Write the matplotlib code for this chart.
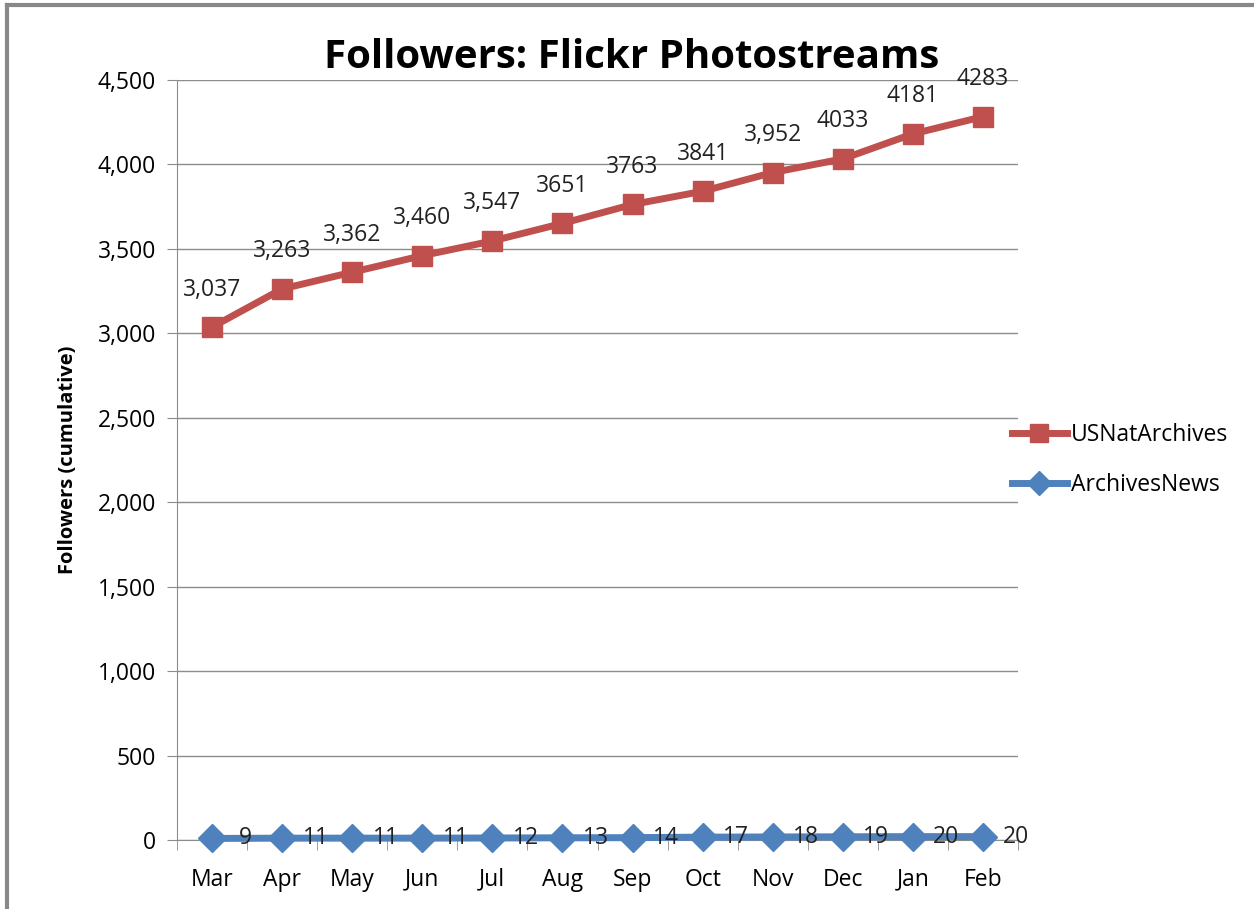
import numpy as np
import matplotlib
matplotlib.use("Agg")
import matplotlib.pyplot as plt
from matplotlib.lines import Line2D
from matplotlib.ticker import FuncFormatter, MultipleLocator

# ── data ─────────────────────────────────────────────────────────────
months = ["Mar", "Apr", "May", "Jun", "Jul", "Aug", "Sep", "Oct", "Nov", "Dec", "Jan", "Feb"]
usnat = [3037, 3263, 3362, 3460, 3547, 3651, 3763, 3841, 3952, 4033, 4181, 4283]
usnat_labels = ["3,037", "3,263", "3,362", "3,460", "3,547", "3651", "3763", "3841",
                "3,952", "4033", "4181", "4283"]
news = [9, 11, 11, 11, 12, 13, 14, 17, 18, 19, 20, 20]

RED = "#C0504D"
BLUE = "#4F81BD"
GRID = "#8C8C8C"
FS = 16.5

plt.rcParams["font.family"] = ["Open Sans", "DejaVu Sans"]

fig = plt.figure(figsize=(12.54, 9.09), dpi=100)
ax = fig.add_axes([177 / 1254, 1 - 840 / 909, 841 / 1254, 760 / 909])

x = np.arange(len(months))
ax.plot(x, usnat, color=RED, lw=5, marker="s", ms=15, mec=RED, mfc=RED,
        label="USNatArchives", zorder=3)
ax.plot(x, news, color=BLUE, lw=5, marker="D", ms=14, mec=BLUE, mfc=BLUE,
        label="ArchivesNews", zorder=3, clip_on=False)

for xi, v, s in zip(x, usnat, usnat_labels):
    ax.annotate(s, (xi, v), xytext=(0, 27), textcoords="offset points",
                ha="center", va="center", fontsize=FS, color="#222222")
for xi, v in zip(x, news):
    ax.annotate(str(v), (xi, v), xytext=(24, 0), textcoords="offset points",
                ha="center", va="center", fontsize=FS, color="#222222")

ax.set_xlim(-0.5, len(months) - 0.5)
ax.set_ylim(0, 4500)
ax.yaxis.set_major_locator(MultipleLocator(500))
ax.yaxis.set_major_formatter(FuncFormatter(lambda v, p: f"{int(v):,}"))
ax.set_xticks(x)
ax.set_xticklabels(months)
ax.set_xticks(np.arange(-0.5, len(months)), minor=True)
ax.tick_params(axis="x", which="major", length=0, pad=20, labelsize=FS)
ax.tick_params(axis="x", which="minor", length=7, color=GRID, direction="out")
ax.tick_params(axis="y", length=7, color=GRID, pad=8, labelsize=FS)

ax.grid(axis="y", color=GRID, lw=1)
ax.set_axisbelow(True)
for side in ["top", "right"]:
    ax.spines[side].set_visible(False)
for side in ["left", "bottom"]:
    ax.spines[side].set_color(GRID)

ax.set_ylabel("Followers (cumulative)", fontsize=14.5, fontweight="bold", labelpad=14)
fig.text(632 / 1254, 1 - 57 / 909, "Followers: Flickr Photostreams", ha="center",
         va="center", fontsize=29, fontweight="bold")

ax.legend(loc="center left", bbox_to_anchor=(0.968, 0.5), frameon=False,
          fontsize=FS, handlelength=2.4, handletextpad=0.2, labelspacing=1.1,
          markerscale=0.9)

# outer border (left and top visible)
fig.add_artist(Line2D([7 / 1254, 7 / 1254], [0, 1 - 5 / 909], transform=fig.transFigure,
                      color="#888888", lw=3))
fig.add_artist(Line2D([7 / 1254, 1], [1 - 5 / 909, 1 - 5 / 909], transform=fig.transFigure,
                      color="#888888", lw=3))

fig.savefig("out.png", dpi=100)
